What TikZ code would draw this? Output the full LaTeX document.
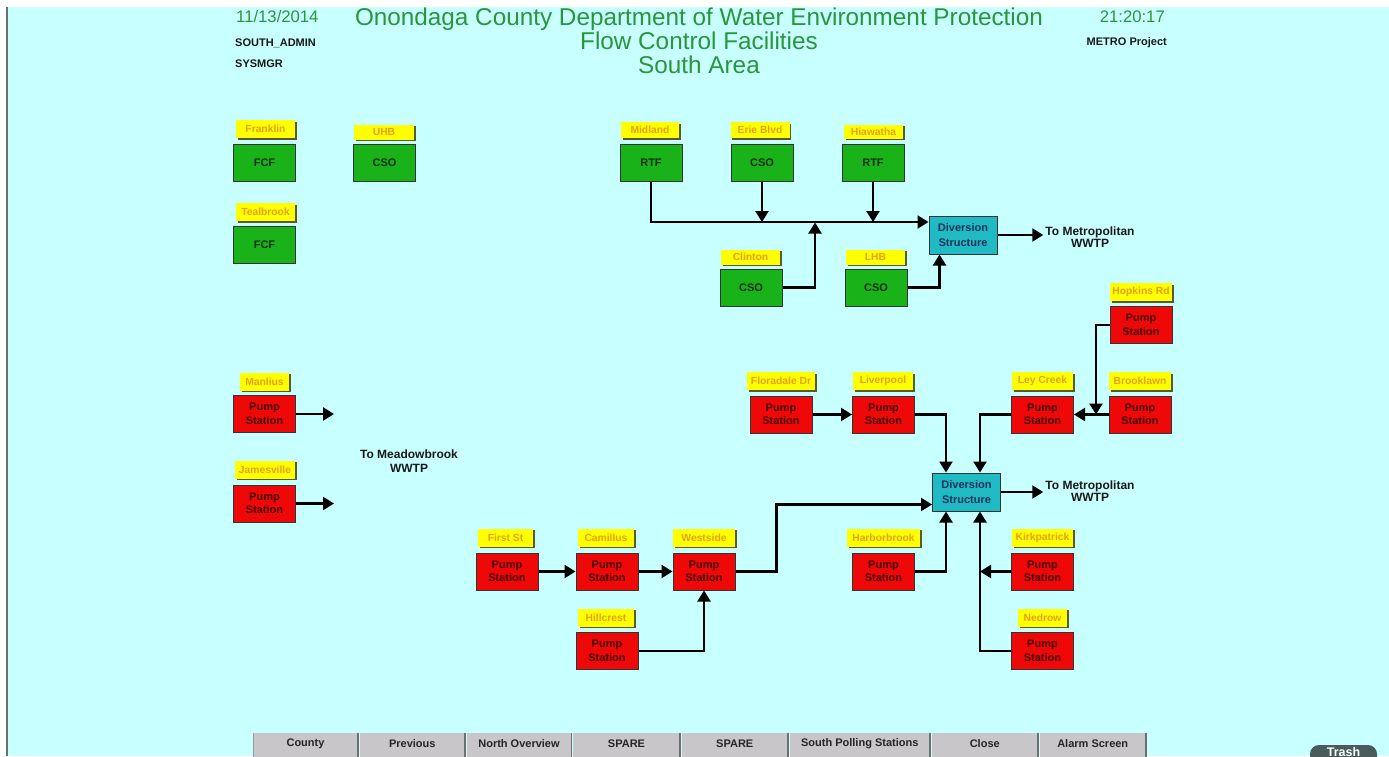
\documentclass[tikz,border=0pt]{standalone}
\usepackage{fontspec}
\setmainfont{Liberation Sans}
\usetikzlibrary{arrows.meta,shadows,calc}
\definecolor{bg}{RGB}{200,255,255}
\definecolor{boxgreen}{RGB}{25,178,25}
\definecolor{gtext}{RGB}{15,45,15}
\definecolor{boxred}{RGB}{238,8,8}
\definecolor{rtext}{RGB}{70,0,0}
\definecolor{lblyellow}{RGB}{255,255,0}
\definecolor{lbltext}{RGB}{228,160,30}
\definecolor{shadowcol}{RGB}{90,90,40}
\definecolor{divcol}{RGB}{32,186,196}
\definecolor{divtext}{RGB}{20,50,90}
\definecolor{titlegreen}{RGB}{40,150,60}
\definecolor{btngray}{RGB}{200,198,200}
\definecolor{btnedge}{RGB}{110,110,110}
\definecolor{trashgray}{RGB}{75,90,90}
\begin{document}
\begin{tikzpicture}[x=1pt,y=-1pt,
  box/.style={draw=black!80, line width=1pt, minimum width=62pt, minimum height=37pt, inner sep=0pt, font=\fontsize{11}{13.5}\selectfont\bfseries, align=center},
  gbox/.style={box, fill=boxgreen, text=gtext},
  rbox/.style={box, fill=boxred, text=rtext},
  dbox/.style={box, fill=divcol, text=divtext, minimum width=68pt, minimum height=38pt, font=\fontsize{11}{15}\selectfont\bfseries},
  lbl/.style={fill=lblyellow, text=lbltext, font=\fontsize{10.3}{10}\selectfont\bfseries, minimum height=18pt, minimum width=59pt, inner sep=0pt, drop shadow={shadow xshift=1.5pt, shadow yshift=-1.5pt, fill=shadowcol, opacity=1}},
  pipe/.style={line width=2.3pt, black},
  arr/.style={pipe, -{Triangle[length=11pt,width=13pt]}},
  dest/.style={font=\fontsize{12}{12}\selectfont\bfseries, align=center, text=black!90, inner sep=2pt},
  hdr/.style={font=\fontsize{11}{12}\selectfont\bfseries, text=black!90, inner sep=0pt},
  green17/.style={font=\fontsize{16.7}{18}\selectfont, text=titlegreen, inner sep=0pt},
  btntext/.style={font=\fontsize{11}{12}\selectfont\bfseries, text=black!85, inner sep=0pt}
]
\useasboundingbox (0,0) rectangle (1389,756);
\clip (0,0) rectangle (1389,756);
\fill[white] (0,0) rectangle (1389,756);
\fill[bg] (8,7) rectangle (1389,756);
\draw[btnedge, line width=2pt] (7,7) -- (7,756);

% header
\node[green17, anchor=west] (date) at (236,17) {11/13/2014};
\node[hdr, anchor=west] (user) at (235,43) {SOUTH\_ADMIN};
\node[hdr, anchor=west] (role) at (235,64) {SYSMGR};
\node[green17, anchor=east] (time) at (1165,17) {21:20:17};
\node[hdr, anchor=east] (proj) at (1167,43) {METRO Project};
\node[font=\fontsize{24.3}{24}\selectfont, text=titlegreen, align=center, inner sep=0pt, anchor=north] (title) at (699,8)
  {Onondaga County Department of Water Environment Protection\\Flow Control Facilities\\South Area};

% top-left facilities
\node[gbox] (franklin) at (264.5,163) {FCF};
\node[lbl] (franklinL) at (265.5,129) {Franklin};
\node[gbox] (uhb) at (384.5,163) {CSO};
\node[lbl, minimum width=60pt, minimum height=15pt] (uhbL) at (384,132) {UHB};
\node[gbox] (tealbrook) at (264.5,244.5) {FCF};
\node[lbl] (tealbrookL) at (265.5,212) {Tealbrook};

% top network
\node[gbox] (midland) at (651,162.5) {RTF};
\node[lbl, minimum width=58pt, minimum height=16pt] (midlandL) at (650,130) {Midland};
\node[gbox] (erie) at (762,162.5) {CSO};
\node[lbl, minimum height=16pt] (erieL) at (760,130) {Erie Blvd};
\node[gbox] (hiawatha) at (873,162.5) {RTF};
\node[lbl, minimum height=14pt] (hiawathaL) at (873.5,131.5) {Hiawatha};
\node[gbox] (clinton) at (751,287.5) {CSO};
\node[lbl, minimum height=15pt] (clintonL) at (750.5,257) {Clinton};
\node[gbox] (lhb) at (876,287.5) {CSO};
\node[lbl, minimum height=15pt] (lhbL) at (875.5,257) {LHB};
\node[dbox] (div1) at (963,235) {Diversion\\Structure};
\node[dest] (metro1) at (1090,237) {To Metropolitan\\WWTP};

\coordinate (bus) at ([yshift=-6.5pt]div1.north west);
\coordinate (cjoin) at (815,222.5);
\draw[arr] (midland.south) |- (bus);
\draw[arr] (erie.south) -- (erie.south |- bus);
\draw[arr] (hiawatha.south) -- (hiawatha.south |- bus);
\draw[arr] (clinton.east) -| (cjoin);
\draw[arr] (lhb.east) -| ([xshift=11pt]div1.south west);
\draw[arr] (div1.east) -- (div1.east -| metro1.west);

% left pump stations
\node[rbox] (manlius) at (264.5,414) {Pump\\Station};
\node[lbl, minimum width=49pt] (manliusL) at (264.5,381.5) {Manlius};
\node[rbox] (jamesville) at (264.5,503.5) {Pump\\Station};
\node[lbl, minimum width=60pt] (jamesvilleL) at (265,469.5) {Jamesville};
\coordinate (manliusEnd) at (334,414);
\coordinate (jamesvilleEnd) at (334,503.5);
\draw[arr] (manlius.east) -- (manliusEnd);
\draw[arr] (jamesville.east) -- (jamesvilleEnd);
\node[dest, font=\fontsize{12}{14}\selectfont\bfseries] (meadow) at (409,461) {To Meadowbrook\\WWTP};

% bottom network
\node[dbox] (div2) at (966.5,492) {Diversion\\Structure};
\node[dest] (metro2) at (1090,491.5) {To Metropolitan\\WWTP};
\draw[arr] (div2.east) -- (div2.east -| metro2.west);

\node[rbox] (hopkins) at (1141,325) {Pump\\Station};
\node[lbl, minimum width=62pt] (hopkinsL) at (1141,292) {Hopkins Rd};
\node[rbox] (brooklawn) at (1140,414.5) {Pump\\Station};
\node[lbl, minimum width=62pt] (brooklawnL) at (1140,381) {Brooklawn};
\node[rbox] (leycreek) at (1042.5,414.5) {Pump\\Station};
\node[lbl, minimum width=61pt] (leycreekL) at (1042.5,381) {Ley Creek};
\node[rbox] (floradale) at (781,414.5) {Pump\\Station};
\node[lbl, minimum width=68pt] (floradaleL) at (781,381) {Floradale Dr};
\node[rbox] (liverpool) at (883.5,414.5) {Pump\\Station};
\node[lbl, minimum width=60pt] (liverpoolL) at (883,381) {Liverpool};

\node[rbox] (firstst) at (507,571.5) {Pump\\Station};
\node[lbl, minimum width=55pt] (firststL) at (505.5,537.5) {First St};
\node[rbox] (camillus) at (607,571.5) {Pump\\Station};
\node[lbl, minimum width=56pt] (camillusL) at (606,537.5) {Camillus};
\node[rbox] (westside) at (704,571.5) {Pump\\Station};
\node[lbl, minimum width=62pt] (westsideL) at (704,537.5) {Westside};
\node[rbox] (hillcrest) at (607,651) {Pump\\Station};
\node[lbl, minimum width=56pt] (hillcrestL) at (606,617.5) {Hillcrest};
\node[rbox] (harborbrook) at (883.5,571.5) {Pump\\Station};
\node[lbl, minimum width=73pt] (harborbrookL) at (883.5,537.5) {Harborbrook};
\node[rbox] (kirkpatrick) at (1042.5,571.5) {Pump\\Station};
\node[lbl, minimum width=61pt] (kirkpatrickL) at (1042.5,537.5) {Kirkpatrick};
\node[rbox] (nedrow) at (1042.5,651) {Pump\\Station};
\node[lbl, minimum width=49pt] (nedrowL) at (1042.5,617.5) {Nedrow};

\coordinate (hjoin) at (1096,414.5);
\coordinate (ljoin) at ([xshift=48pt]div2.north west);
\coordinate (njoin) at ([xshift=48pt]div2.south west);
\draw[arr] (hopkins.west) -| (hjoin);
\draw[arr] (brooklawn.west) -- (leycreek.east);
\draw[arr] (leycreek.west) -| (ljoin);
\draw[arr] (floradale.east) -- (liverpool.west);
\draw[arr] (liverpool.east) -| ([xshift=14pt]div2.north west);
\draw[arr] (firstst.east) -- (camillus.west);
\draw[arr] (camillus.east) -- (westside.west);
\draw[arr] (hillcrest.east) -| (westside.south);
\draw[arr] (westside.east) -- ++(41,0) |- ([yshift=7pt]div2.south west);
\draw[arr] (harborbrook.east) -| ([xshift=14pt]div2.south west);
\draw[arr] (nedrow.west) -| (njoin);
\draw[arr] (kirkpatrick.west) -- (kirkpatrick.west -| njoin);

% buttons
\foreach \xa/\xb/\t/\n in {253/358/County/b1, 359.5/465/Previous/b2, 466.5/571.5/North Overview/b3, 573/680/SPARE/b4, 681.5/788/SPARE/b5, 789.5/930/South Polling Stations/b6, 931.5/1038/Close/b7, 1039.5/1146/Alarm Screen/b8}{
  \fill[btngray] (\xa,733) rectangle (\xb,760);
  \draw[btnedge, line width=1.5pt] (\xb,733) -- (\xb,760);
  \node[btntext] (\n) at ({(\xa+\xb)/2},744) {\t};
}
\draw[btnedge!70, line width=1pt] (253.5,733) -- (253.5,760);

% trash
\fill[trashgray, rounded corners=9pt] (1310,745) rectangle (1377,770);
\node[text=white, font=\fontsize{12.5}{13}\selectfont\bfseries, inner sep=0pt, anchor=base] (trash) at (1343.5,756) {Trash};
\end{tikzpicture}
\end{document}
